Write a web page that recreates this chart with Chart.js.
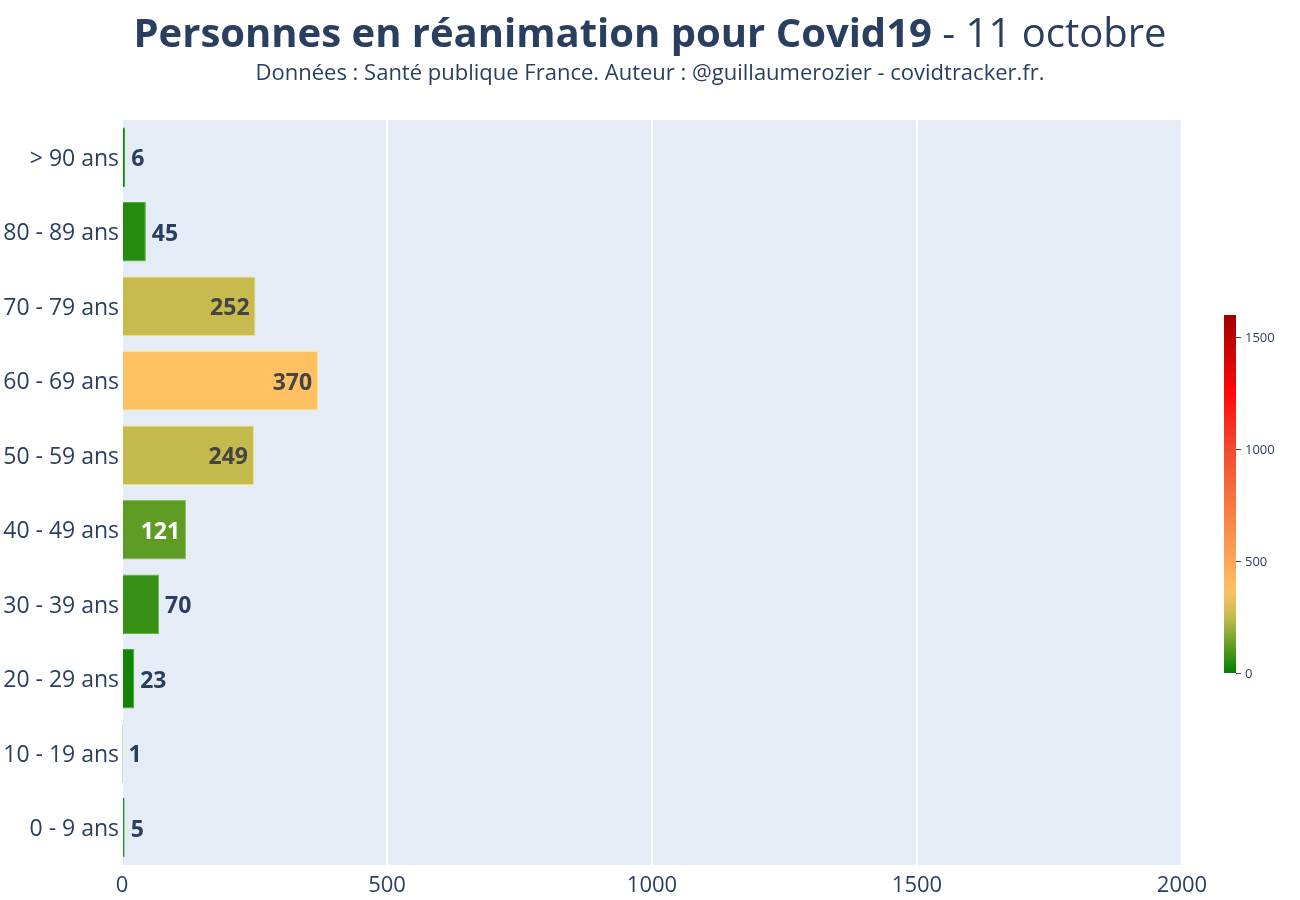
<!DOCTYPE html>
<html>
<head>
<meta charset="utf-8">
<script src="https://cdn.jsdelivr.net/npm/chart.js@4.4.1/dist/chart.umd.min.js"></script>
<style>
html,body{margin:0;padding:0;background:#fff;}
#wrap{width:1300px;height:900px;position:relative;}
</style>
</head>
<body>
<div id="wrap"><canvas id="c" width="1300" height="900"></canvas></div>
<script>
const categories = ["> 90 ans","80 - 89 ans","70 - 79 ans","60 - 69 ans","50 - 59 ans","40 - 49 ans","30 - 39 ans","20 - 29 ans","10 - 19 ans","0 - 9 ans"];
const values = [6,45,252,370,249,121,70,23,1,5];
const xTicks = [0,500,1000,1500,2000];
const colorbarTicks = [0,500,1000,1500];
const colorbarMax = 1600;
const titleBold = "Personnes en réanimation pour Covid19";
const titleRest = " - 11 octobre";
const subtitle = "Données : Santé publique France. Auteur : @guillaumerozier - covidtracker.fr.";

const stops = [
  [0, [0,128,0]],
  [0.16, [202,188,80]],
  [0.23, [254,192,96]],
  [0.32, [252,164,86]],
  [0.62, [242,76,47]],
  [0.78, [255,10,10]],
  [1, [160,0,0]]
];
function colorAt(f){
  f=Math.max(0,Math.min(1,f));
  for(let i=1;i<stops.length;i++){
    if(f<=stops[i][0]){
      const a=stops[i-1],b=stops[i];
      const t=(f-a[0])/(b[0]-a[0]);
      return a[1].map((v,k)=>Math.round(v+(b[1][k]-v)*t));
    }
  }
  return stops[stops.length-1][1];
}
const rgb=c=>`rgb(${c[0]},${c[1]},${c[2]})`;
const barColors = values.map(v=>rgb(colorAt(v/colorbarMax)));
const borderColors = values.map(v=>{const c=colorAt(v/colorbarMax);return `rgba(${Math.min(255,c[0]+40)},${Math.min(255,c[1]+40)},${Math.min(255,c[2]+40)},1)`;});

const FONT = "'Open Sans', 'Noto Sans', sans-serif";
const TXT = "#2a3f5f";

const bgPlugin = {
  id:'bg',
  beforeDraw(chart){
    const {ctx, chartArea:a} = chart;
    ctx.save();
    ctx.fillStyle = "#e5ecf6";
    ctx.fillRect(a.left, a.top, a.right-a.left, a.bottom-a.top);
    ctx.restore();
  }
};

const titlePlugin = {
  id:'titles',
  afterDraw(chart){
    const ctx = chart.ctx;
    ctx.save();
    ctx.textBaseline = 'alphabetic';
    ctx.fillStyle = TXT;
    ctx.font = `bold 40px ${FONT}`;
    const w1 = ctx.measureText(titleBold).width;
    ctx.font = `40px ${FONT}`;
    const w2 = ctx.measureText(titleRest).width;
    const x0 = 650 - (w1+w2)/2;
    ctx.textAlign='left';
    ctx.font = `bold 40px ${FONT}`;
    ctx.fillText(titleBold, x0, 47);
    ctx.font = `40px ${FONT}`;
    ctx.fillText(titleRest, x0+w1, 47);
    ctx.font = `22px ${FONT}`;
    ctx.textAlign='center';
    ctx.fillText(subtitle, 650, 80);
    ctx.restore();
  }
};

const labelPlugin = {
  id:'barLabels',
  afterDatasetsDraw(chart){
    const ctx = chart.ctx;
    const meta = chart.getDatasetMeta(0);
    ctx.save();
    ctx.font = `bold 23px ${FONT}`;
    ctx.textBaseline = 'middle';
    meta.data.forEach((el,i)=>{
      const txt = String(values[i]);
      const tw = ctx.measureText(txt).width;
      const barW = el.x - el.base;
      const y = el.y + 2.5;
      if (tw + 12 <= barW){
        const c = colorAt(values[i]/colorbarMax);
        const lum = 0.299*c[0]+0.587*c[1]+0.114*c[2];
        ctx.fillStyle = lum > 150 ? "#444444" : "#ffffff";
        ctx.textAlign = 'right';
        ctx.fillText(txt, el.x - 6, y);
      } else {
        ctx.fillStyle = TXT;
        ctx.textAlign = 'left';
        ctx.fillText(txt, el.x + 6, y);
      }
    });
    ctx.restore();
  }
};

const colorbarPlugin = {
  id:'colorbar',
  afterDraw(chart){
    const ctx = chart.ctx;
    const x = 1224, w = 12, top = 315, bottom = 673;
    ctx.save();
    const g = ctx.createLinearGradient(0,bottom,0,top);
    for(let i=0;i<=40;i++){ g.addColorStop(i/40, rgb(colorAt(i/40))); }
    ctx.fillStyle = g;
    ctx.fillRect(x, top, w, bottom-top);
    ctx.strokeStyle = "#444";
    ctx.lineWidth = 1;
    ctx.fillStyle = TXT;
    ctx.font = `13px ${FONT}`;
    ctx.textAlign='left';
    ctx.textBaseline='middle';
    colorbarTicks.forEach(t=>{
      const y = bottom - (t/colorbarMax)*(bottom-top);
      ctx.beginPath();
      ctx.moveTo(x+w, Math.round(y)+0.5);
      ctx.lineTo(x+w+5, Math.round(y)+0.5);
      ctx.stroke();
      ctx.fillText(String(t), x+w+9, y+1);
    });
    ctx.restore();
  }
};

new Chart(document.getElementById('c'), {
  type:'bar',
  data:{
    labels: categories,
    datasets:[{
      data: values,
      backgroundColor: barColors,
      borderColor: borderColors,
      borderWidth: {top:1,bottom:1,right:1,left:0},
      borderSkipped: 'start',
      categoryPercentage: 0.8,
      barPercentage: 1.0
    }]
  },
  options:{
    indexAxis:'y',
    responsive:false,
    animation:false,
    devicePixelRatio:1,
    layout:{padding:{top:120,right:118,left:0,bottom:0}},
    plugins:{legend:{display:false},tooltip:{enabled:false}},
    scales:{
      x:{
        min:0,max:2000,
        afterBuildTicks(scale){ scale.ticks = xTicks.map(v=>({value:v})); },
        afterFit(scale){ scale.height = 35; },
        grid:{color:'#ffffff',lineWidth:2,drawTicks:false},
        border:{display:false},
        ticks:{padding:8,color:TXT,font:{family:FONT,size:22},maxRotation:0,autoSkip:false,
          callback:(v)=>String(v)}
      },
      y:{
        afterFit(scale){ scale.width = 122; },
        grid:{display:false,drawTicks:false},
        border:{display:false},
        ticks:{padding:3,labelOffset:2,color:TXT,font:{family:FONT,size:23},autoSkip:false}
      }
    }
  },
  plugins:[bgPlugin,labelPlugin,titlePlugin,colorbarPlugin]
});
</script>
</body>
</html>
